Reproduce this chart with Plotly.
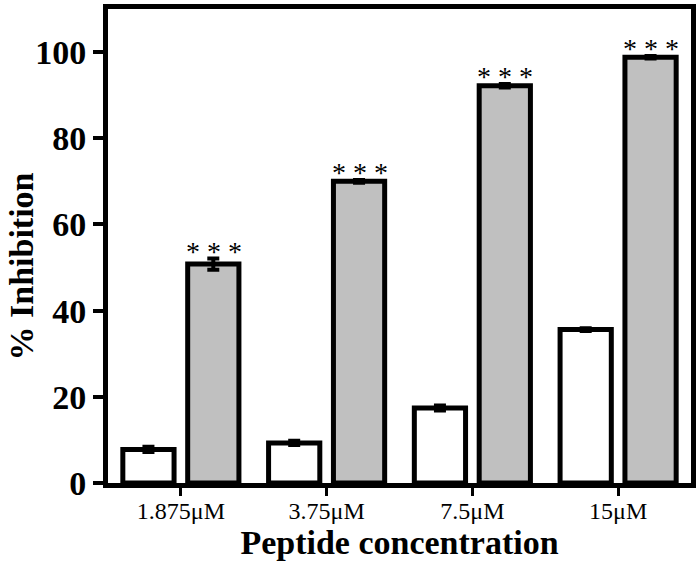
import plotly.graph_objects as go

# values
concentrations = ["1.875μM", "3.75μM", "7.5μM", "15μM"]
control = [7.8, 9.3, 17.4, 35.6]
control_err = [0.6, 0.5, 0.6, 0.3]
peptide = [50.8, 70.0, 92.2, 98.8]
peptide_err = [1.3, 0.3, 0.4, 0.3]
stars = ["* * *", "* * *", "* * *", "* * *"]

FONT = "Liberation Serif"
INK = "#000000"
GREY = "#c0c0c0"

fig = go.Figure()
fig.add_trace(go.Bar(
    x=concentrations, y=control, name="control",
    marker=dict(color="#ffffff", line=dict(color=INK, width=5)),
    error_y=dict(type="data", array=control_err, color=INK, thickness=4, width=6),
))
fig.add_trace(go.Bar(
    x=concentrations, y=peptide, name="peptide",
    marker=dict(color=GREY, line=dict(color=INK, width=5)),
    error_y=dict(type="data", array=peptide_err, color=INK, thickness=4, width=6),
))

# significance marks above the grey bars
for c, v, e, s in zip(concentrations, peptide, peptide_err, stars):
    fig.add_annotation(x=c, y=v + e, text=s, showarrow=False, xshift=33,
                       yanchor="bottom", yshift=-10,
                       font=dict(family=FONT, size=28, color=INK))

# y title as an annotation: sits a little below the plot's middle in the reference
fig.add_annotation(text="<b>% Inhibition</b>", xref="paper", yref="paper",
                   x=-0.149, y=0.457, xanchor="center", yanchor="middle",
                   textangle=-90, showarrow=False, borderpad=0,
                   font=dict(family=FONT, size=34, color=INK))

fig.update_layout(
    width=700, height=566,
    barmode="group", bargap=0.11, bargroupgap=0.21,
    showlegend=False,
    paper_bgcolor="#ffffff", plot_bgcolor="#ffffff",
    margin=dict(l=108, r=7, t=4, b=83),
    font=dict(family=FONT, color=INK),
)
fig.update_xaxes(
    range=[-0.5, 3.5], showline=True, linecolor=INK, linewidth=5, mirror=True,
    ticks="outside", ticklen=8, tickwidth=3, tickcolor=INK, showgrid=False,
    ticklabelstandoff=-6,
    tickfont=dict(family=FONT, size=24, color=INK),
    title=dict(text="Peptide concentration", standoff=0,
               font=dict(family=FONT, size=34, color=INK, weight="bold")),
)
fig.update_yaxes(
    range=[0, 110], tickvals=[0, 20, 40, 60, 80, 100],
    showline=True, linecolor=INK, linewidth=5, mirror=True,
    ticks="outside", ticklen=10, tickwidth=4, tickcolor=INK,
    showgrid=False, zeroline=False,
    tickfont=dict(family=FONT, size=34, color=INK, weight="bold"),
)

fig.write_html("out.html", config={"displayModeBar": False},
               post_script="document.body.style.margin='0';")
